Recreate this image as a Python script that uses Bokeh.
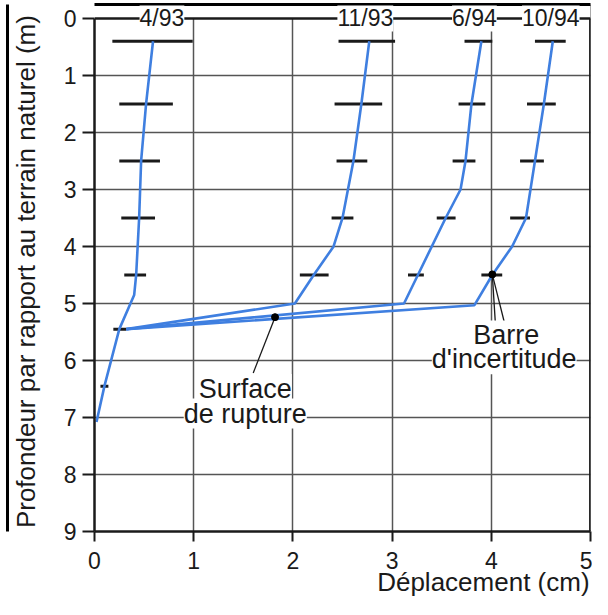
from bokeh.plotting import figure
from bokeh.models import Range1d, FixedTicker, Label, Span, LinearAxis
from bokeh.embed import file_html
from bokeh.resources import INLINE

# ---- data (displacement in cm, depth in m) ----
depth_4_93 = [0.4, 1.5, 2.5, 3.5, 4.5, 4.85, 5.45, 6.45, 7.08]
disp_4_93 = [0.59, 0.52, 0.47, 0.45, 0.42, 0.40, 0.25, 0.10, 0.02]

depth_11_93 = [0.4, 1.5, 2.5, 3.5, 4.0, 4.5, 5.0, 5.45]
disp_11_93 = [2.77, 2.69, 2.61, 2.50, 2.41, 2.21, 2.02, 0.32]

depth_6_94 = [0.4, 1.5, 2.5, 3.0, 3.5, 4.5, 5.0, 5.45]
disp_6_94 = [3.90, 3.80, 3.74, 3.69, 3.54, 3.26, 3.12, 0.32]

depth_10_94 = [0.4, 1.5, 2.5, 3.5, 4.0, 4.5, 5.03, 5.45]
disp_10_94 = [4.62, 4.53, 4.44, 4.35, 4.21, 4.01, 3.83, 0.32]

# uncertainty bars
bar_depth_4_93 = [0.4, 1.5, 2.5, 3.5, 4.5, 5.45, 6.45]
bar_lo_4_93 = [0.18, 0.25, 0.25, 0.27, 0.30, 0.19, 0.06]
bar_hi_4_93 = [0.99, 0.79, 0.66, 0.61, 0.52, 0.32, 0.14]

bar_depth = [0.4, 1.5, 2.5, 3.5, 4.5]
bar_lo_11_93 = [2.46, 2.42, 2.44, 2.39, 2.07]
bar_hi_11_93 = [3.03, 2.90, 2.75, 2.61, 2.36]
bar_lo_6_94 = [3.73, 3.67, 3.61, 3.45, 3.16]
bar_hi_6_94 = [4.01, 3.94, 3.84, 3.64, 3.32]
bar_lo_10_94 = [4.44, 4.36, 4.29, 4.19, 3.90]
bar_hi_10_94 = [4.75, 4.65, 4.53, 4.39, 4.11]

series_names = ["4/93", "11/93", "6/94", "10/94"]
series_label_x = [0.68, 2.73, 3.83, 4.60]

x_ticks = [0, 1, 2, 3, 4, 5]
y_ticks = [0, 1, 2, 3, 4, 5, 6, 7, 8, 9]

# annotation points
dot_x = [1.82, 4.01]
dot_y = [5.24, 4.49]
leader_x0 = [1.82, 4.01, 4.01]
leader_y0 = [5.24, 4.49, 4.49]
leader_x1 = [1.60, 4.04, 4.13]
leader_y1 = [6.22, 5.32, 5.32]

BLUE = "#3f7fe0"
INK = "#1a1a1a"
FONT = "Liberation Sans"
NB = "\u00a0"

p = figure(width=592, height=599, output_backend="svg", toolbar_location=None,
           x_range=Range1d(0, 5), y_range=Range1d(9, -0.245),
           min_border_left=94, min_border_right=2, min_border_top=4, min_border_bottom=68)
p.outline_line_color = None
p.background_fill_color = "white"
p.border_fill_color = "white"

# axes
p.xaxis.ticker = FixedTicker(ticks=x_ticks)
p.yaxis.ticker = FixedTicker(ticks=y_ticks)
p.yaxis.bounds = (0, 9)
for ax in (p.xaxis, p.yaxis):
    ax.axis_line_color = INK
    ax.axis_line_width = 2.5
    ax.major_tick_line_color = INK
    ax.major_tick_line_width = 2
    ax.major_tick_in = 0
    ax.minor_tick_line_color = None
    ax.major_label_text_font = FONT
    ax.major_label_text_font_size = "23px"
    ax.major_label_text_color = INK
    ax.axis_label_text_font = FONT
    ax.axis_label_text_font_style = "normal"
    ax.axis_label_text_color = INK
p.xaxis.major_tick_out = 10
p.xaxis.major_label_standoff = 10
p.xaxis.axis_label = NB * 39 + "Déplacement (cm)"
p.xaxis.axis_label_text_font_size = "26px"
p.xaxis.axis_label_standoff = -5
p.yaxis.major_tick_out = 12
p.yaxis.major_label_standoff = 6
p.yaxis.axis_label = "Profondeur par rapport au terrain naturel (m)" + NB
p.yaxis.axis_label_text_font_size = "26px"
p.yaxis.axis_label_standoff = 20

# scan border on the far left and at the top
edge_left = LinearAxis(ticker=FixedTicker(ticks=[]), axis_line_color="black", axis_line_width=3,
                       major_tick_out=0, major_tick_in=0, minor_tick_line_color=None,
                       major_label_text_color=None)
p.add_layout(edge_left, "left")
edge_top = LinearAxis(ticker=FixedTicker(ticks=[]), axis_line_color="black", axis_line_width=3,
                      major_tick_out=0, major_tick_in=0, minor_tick_line_color=None,
                      major_label_text_color=None, major_label_standoff=0)
p.add_layout(edge_top, "above")

# grid
p.xgrid.ticker = FixedTicker(ticks=[1, 2, 3, 4])
p.ygrid.ticker = FixedTicker(ticks=[1, 2, 3, 4, 5, 6, 7, 8])
p.grid.grid_line_color = "#555555"
p.grid.grid_line_width = 1.5
p.grid.grid_line_alpha = 1.0

# right frame line
p.add_layout(Span(location=5, dimension="height", line_color=INK, line_width=2.5, level="underlay"))

# blank strip above the zero line, then the zero (top) line
p.quad(left=[0], right=[5], bottom=[0], top=[-0.3], fill_color="white", line_color=None)
p.segment(x0=[0], x1=[5], y0=[0], y1=[0], line_color=INK, line_width=2.5)
p.segment(x0=[5], x1=[5], y0=[0], y1=[9], line_color=INK, line_width=2.5)

# uncertainty bars
p.segment(x0=bar_lo_4_93, x1=bar_hi_4_93, y0=bar_depth_4_93, y1=bar_depth_4_93, line_color=INK, line_width=3)
for lo, hi in ((bar_lo_11_93, bar_hi_11_93), (bar_lo_6_94, bar_hi_6_94), (bar_lo_10_94, bar_hi_10_94)):
    p.segment(x0=lo, x1=hi, y0=bar_depth, y1=bar_depth, line_color=INK, line_width=3)

# profiles
for xs, ys in ((disp_4_93, depth_4_93), (disp_11_93, depth_11_93),
               (disp_6_94, depth_6_94), (disp_10_94, depth_10_94)):
    p.line(xs, ys, line_color=BLUE, line_width=2.6)

# leaders and dots
p.segment(x0=leader_x0, y0=leader_y0, x1=leader_x1, y1=leader_y1, line_color=INK, line_width=1.3)
p.scatter(dot_x, dot_y, size=7, color="black")

# series labels on top line
for name, lx in zip(series_names, series_label_x):
    p.add_layout(Label(x=lx, y=0, text=name, text_align="center", text_baseline="middle",
                       text_font=FONT, text_font_size="23px", text_color=INK,
                       background_fill_color="white", background_fill_alpha=1.0))

# annotation texts
for txt, lx, ly in (("Surface", 1.52, 6.5), ("de rupture", 1.52, 6.93),
                    ("Barre", 4.15, 5.56), ("d'incertitude", 4.13, 5.98)):
    p.add_layout(Label(x=lx, y=ly, text=txt, text_align="center", text_baseline="middle",
                       text_font=FONT, text_font_size="27px", text_color=INK,
                       background_fill_color="white", background_fill_alpha=1.0))

open("out.html", "w").write(file_html(p, INLINE))
